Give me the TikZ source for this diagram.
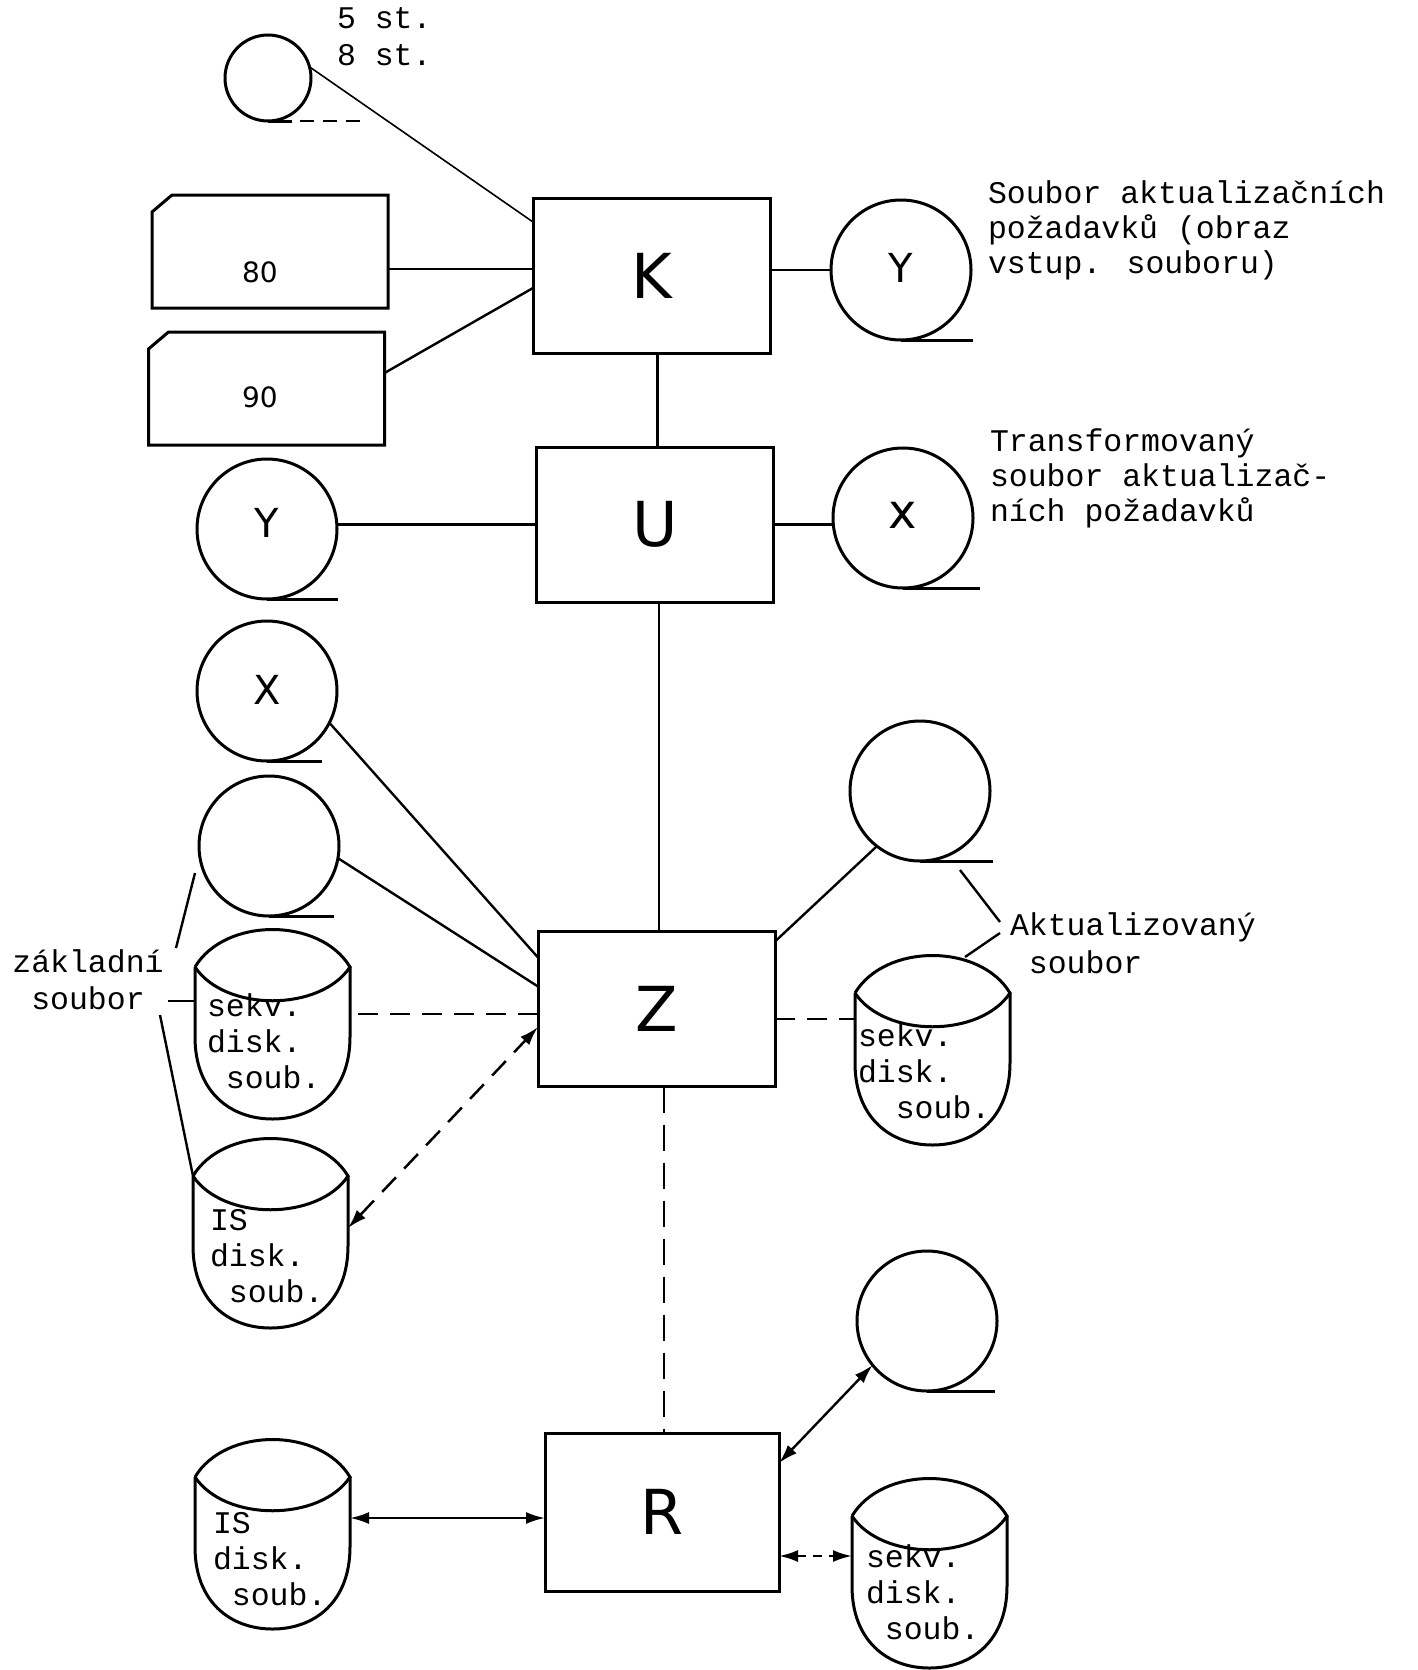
\documentclass[tikz,border=0pt]{standalone}
\usepackage{fontspec}
\setmainfont{Liberation Mono}
\newfontfamily\lettering{DejaVu Sans}
\usetikzlibrary{calc,arrows.meta}
\newcommand{\drumline}[1]{%
  \draw[shape line] (#1.north west) .. controls +(30,-50) and +(-30,-50) .. (#1.north east)
     .. controls +(-30,45) and +(30,45) .. (#1.north west);
  \draw[shape line] (#1.north west) -- ($(#1.north west)+(0,70)$)
     .. controls +(0,55) and +(-42,0) .. (#1.south)
     .. controls +(42,0) and +(0,55) .. ($(#1.north east)+(0,70)$) -- (#1.north east);
}
\newcommand{\cardline}[1]{%
  \draw[shape line] ($(#1.north west)+(0,17)$) -- ($(#1.north west)+(20,0)$) -- (#1.north east)
     -- (#1.south east) -- (#1.south west) -- cycle;
}
\begin{document}
\begin{tikzpicture}[x=1pt,y=-1pt,
  every node/.style={inner sep=0pt, outer sep=0pt},
  shape line/.style={line width=3pt},
  conn/.style={line width=2.4pt},
  thinconn/.style={line width=1.6pt},
  dconn/.style={line width=2.5pt, dash pattern=on 20pt off 12pt},
  sconn/.style={line width=2.5pt, dash pattern=on 9pt off 7pt},
  box/.style={draw, shape line, rectangle, minimum width=237pt, minimum height=155pt,
              font=\lettering\fontsize{62}{62}\selectfont},
  tape/.style={draw, shape line, circle, minimum size=140pt,
               font=\lettering\fontsize{40}{40}\selectfont},
  card/.style={rectangle, minimum width=236pt, minimum height=113pt},
  drum/.style={rectangle, minimum width=155pt, minimum height=152pt, anchor=north west},
  tw/.style={font=\fontsize{31.5}{36}\selectfont, align=left, anchor=base west},
  num/.style={font=\lettering\fontsize{28}{28}\selectfont},
  dtip/.style={{Latex[length=19pt,width=12pt]}-{Latex[length=19pt,width=12pt]}}
]
\useasboundingbox (0,0) rectangle (1417,1670);

% process boxes
\node[box] (K) at (651.5,275.5) {K};
\node[box] (U) at (655,524.5) {U};
\node[box] (Z) at (656.5,1009) {Z};
\node[box, minimum width=234pt, minimum height=158pt] (R) at (662,1512) {R};

% punched cards
\node[card] (c80) at (270,251.5) {};
\node[card] (c90) at (266.5,388.5) {};
\cardline{c80}\cardline{c90}
\node[num] (n80) at (260,272) {80};
\node[num] (n90) at (260,397) {90};

% tapes
\node[tape, minimum size=86pt] (sm) at (268,78) {};
\node[tape] (Yr) at (901,270) {\raisebox{5pt}{Y}};
\node[tape] (xr) at (903,518) {\raisebox{6pt}{\fontsize{48}{48}\selectfont x}};
\node[tape] (er1) at (920,791) {};
\node[tape] (er2) at (927,1321) {};
\node[tape] (Yl) at (267,529) {\raisebox{12pt}{Y}};
\node[tape] (Xl) at (267,691) {\raisebox{3pt}{X}};
\node[tape] (el) at (269,846) {};

\draw[shape line] (Yr.south) -- ++(72,0);
\draw[shape line] (xr.south) -- ++(77,0);
\draw[shape line] (er1.south) -- ++(73,0);
\draw[shape line] (er2.south) -- ++(68,0);
\draw[shape line] (Yl.south) -- ++(71,0);
\draw[shape line] (Xl.south) -- ++(55,0);
\draw[shape line] (el.south) -- ++(65,0);
\draw[shape line] (sm.south) -- ++(24,0);
\draw[conn, dash pattern=on 14pt off 9pt] ($(sm.south)+(32,0)$) -- ++(64,0);

% disk drums
\node[drum] (d1) at (195,967) {};
\node[drum] (d2) at (193,1176) {};
\node[drum] (d3) at (195,1477) {};
\node[drum] (d4) at (855,993) {};
\node[drum] (d5) at (852,1516) {};
\drumline{d1}\drumline{d2}\drumline{d3}\drumline{d4}\drumline{d5}

% multi-line texts: anchor is the baseline of the last line
\node[tw] (t1) at (207,1088) {sekv.\\disk.\\~soub.};
\node[tw] (t2) at (210,1302) {IS\\disk.\\~soub.};
\node[tw] (t3) at (213,1605) {IS\\disk.\\~soub.};
\node[tw] (t4) at (858,1118) {sekv.\\disk.\\~~soub.};
\node[tw] (t5) at (866,1639) {sekv.\\disk.\\~soub.};

% labels
\node[tw, font=\fontsize{31.5}{37}\selectfont] (l5) at (337,66) {5 st.\\8 st.};
\node[tw, font=\fontsize{31.5}{35}\selectfont] (lY) at (988,273) {Soubor aktualizačních\\požadavků (obraz\\vstup. souboru)};
\node[tw, font=\fontsize{31.5}{35}\selectfont] (lX) at (990,521) {Transformovaný\\soubor aktualizač-\\ních požadavků};
\node[tw, align=center, anchor=base, font=\fontsize{31.5}{37}\selectfont] (lZ) at (88,1009) {základní\\soubor};
\node[tw, font=\fontsize{31.5}{38}\selectfont] (lA) at (1010,973) {Aktualizovaný\\~soubor};

% connectors: K
\draw[thinconn] (sm.15) -- ([yshift=-24pt]K.north west);
\coordinate (a80) at ([yshift=-17.5pt]c80.east);
\draw[conn] (a80) -- (a80 -| K.west);
\draw[conn] ([yshift=15.5pt]c90.east) -- ([yshift=-90pt]K.north west);
\draw[conn] (Yr.west) -- (Yr.west -| K.east);
\draw[conn] ([xshift=6pt]K.south) -- ([xshift=6pt]K.south |- U.north);
% U
\draw[conn] (U.west) -- (U.west -| Yl.east);
\draw[conn] (U.east) -- (U.east -| xr.west);
\draw[conn] ([xshift=4pt]U.south) -- ([xshift=4pt]U.south |- Z.north);
% Z
\draw[conn] (Xl.-27) -- ([yshift=-26pt]Z.north west);
\draw[conn] (el.-10) -- ([yshift=-55pt]Z.north west);
\coordinate (z1) at ([yshift=-5pt]Z.west);
\draw[dconn] (z1) -- (z1 -| d1.east);
\draw[dconn, dtip] ([yshift=24pt]d2.east) -- ([yshift=-18pt]Z.west);
\draw[conn] ([yshift=-10pt]Z.north east) -- (er1.-128);
\coordinate (z2) at ([yshift=-10pt]Z.east);
\draw[dconn] (z2) -- (z2 -| d4.west);
\draw[dconn, dash pattern=on 26pt off 12pt] ([xshift=7.5pt]Z.south) -- ([xshift=7.5pt]Z.south |- R.north);
% R
\coordinate (r1) at ([yshift=-6pt]R.west);
\draw[conn, dtip] (r1 -| d3.east) -- (r1);
\draw[conn, dtip] (er2.-141) -- ([yshift=-30pt]R.north east);
\coordinate (r2) at ([yshift=-44pt]R.east);
\draw[sconn, dtip] (r2) -- (r2 -| d5.west);

% annotation pointers
\coordinate (b1a) at (195,873);
\coordinate (b1b) at (176,948);
\draw[conn] (b1a) -- (b1b);
\coordinate (b2) at (168,1001);
\draw[conn] (b2) -- (b2 -| d1.west);
\coordinate (b3) at (160,1015);
\draw[conn] (b3) -- (d2.north west);
\coordinate (p1) at (960,870);
\coordinate (p2) at (1000,922);
\coordinate (p3) at (1000,933);
\coordinate (p4) at (965,957);
\draw[conn] (p1) -- (p2);
\draw[conn] (p3) -- (p4);
\end{tikzpicture}
\end{document}
